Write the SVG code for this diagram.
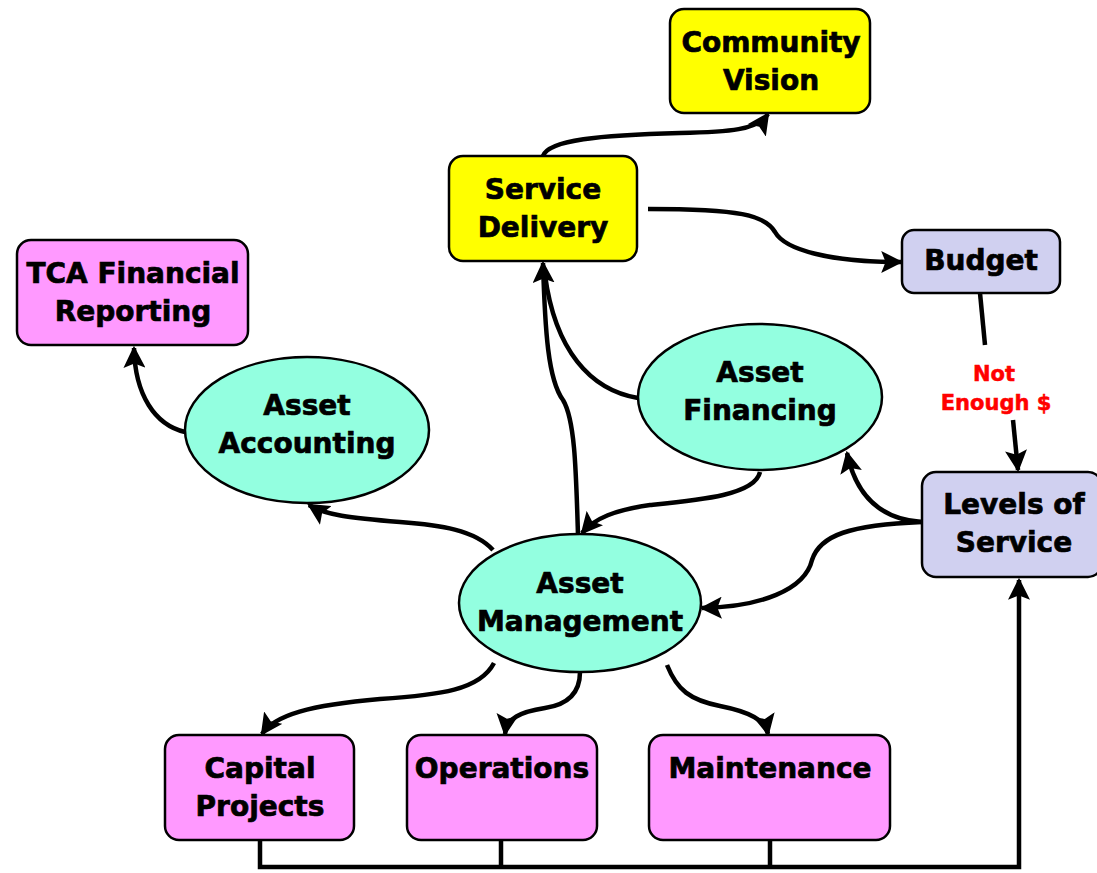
<svg xmlns="http://www.w3.org/2000/svg" width="1097" height="873" viewBox="0 0 1097 873">
<style>
.box{stroke:#000;stroke-width:2.5}
.y{fill:#FFFF00}.p{fill:#FF99FF}.l{fill:#D0D0F0}.c{fill:#93FFE0}
text{font-family:"DejaVu Sans","Verdana",sans-serif;font-weight:bold;font-size:28px;fill:#000;stroke:#000;stroke-width:0.7;text-anchor:middle}
.red{fill:#FF0000;stroke:#FF0000;stroke-width:0.5;font-size:21px}
.con path{fill:none;stroke:#000;stroke-width:4.5}
</style>
<defs>
<marker id="arr" viewBox="0 0 10 10" refX="9" refY="5" markerWidth="22" markerHeight="22" markerUnits="userSpaceOnUse" orient="auto">
<path d="M0,0 L10,5 L0,10 L2,5 z" fill="#000"/>
</marker>
</defs>
<rect width="1097" height="873" fill="#fff"/>
<g class="con">
<path d="M543,156 C548,140 600,135 680,133 C730,132 757,130 768,114" marker-end="url(#arr)"/>
<path d="M648,209 C740,209 765,215 775,232 C785,250 830,262 901,262" marker-end="url(#arr)"/>
<path d="M980,293 L985,345"/>
<path d="M1013,420 L1018,470" marker-end="url(#arr)"/>
<path d="M922,522 C890,520 858,505 847,453" marker-end="url(#arr)"/>
<path d="M922,522 C850,525 820,535 812,560 C805,590 760,607 702,608" marker-end="url(#arr)"/>
<path d="M760,472 C755,495 700,500 650,505 C615,510 595,518 582,533" marker-end="url(#arr)"/>
<path d="M578,535 C576,470 575,420 563,400 C548,380 545,330 543,263" marker-end="url(#arr)"/>
<path d="M638,398 C590,390 555,350 545,275"/>
<path d="M493,550 C475,530 440,525 400,522 C350,518 325,515 309,505" marker-end="url(#arr)"/>
<path d="M185,432 C155,425 135,395 134,348" marker-end="url(#arr)"/>
<path d="M494,663 C480,690 440,695 380,699 C310,705 275,715 262,734" marker-end="url(#arr)"/>
<path d="M580,672 C580,695 565,705 545,708 C520,712 507,718 505,734" marker-end="url(#arr)"/>
<path d="M667,665 C677,690 690,700 720,706 C750,712 765,720 768,734" marker-end="url(#arr)"/>
<path d="M260,840 V867 H1019 V580" marker-end="url(#arr)"/>
<path d="M501,840 V867"/>
<path d="M770,840 V867"/>
</g>
<g id="community-vision"><rect class="box y" x="670" y="9" width="200" height="104" rx="14"/><text x="771" y="52">Community</text><text x="771" y="90">Vision</text></g>
<g id="service-delivery"><rect class="box y" x="449" y="156" width="188" height="105" rx="14"/><text x="543" y="199">Service</text><text x="543" y="237">Delivery</text></g>
<g id="tca"><rect class="box p" x="17" y="240" width="231" height="105" rx="14"/><text x="133" y="283">TCA Financial</text><text x="133" y="321">Reporting</text></g>
<g id="budget"><rect class="box l" x="902" y="230" width="158" height="63" rx="12"/><text x="981" y="270">Budget</text></g>
<g id="levels"><rect class="box l" x="922" y="472" width="180" height="105" rx="14"/><text x="1014" y="514">Levels of</text><text x="1014" y="552">Service</text></g>
<g id="asset-accounting"><ellipse class="box c" cx="307" cy="430" rx="122" ry="73"/><text x="307" y="415">Asset</text><text x="307" y="453">Accounting</text></g>
<g id="asset-financing"><ellipse class="box c" cx="760" cy="397" rx="122" ry="73"/><text x="760" y="382">Asset</text><text x="760" y="420">Financing</text></g>
<g id="asset-management"><ellipse class="box c" cx="580" cy="603" rx="121" ry="69"/><text x="580" y="593">Asset</text><text x="580" y="631">Management</text></g>
<g id="capital-projects"><rect class="box p" x="165" y="735" width="189" height="105" rx="14"/><text x="260" y="778">Capital</text><text x="260" y="816">Projects</text></g>
<g id="operations"><rect class="box p" x="407" y="735" width="190" height="105" rx="14"/><text x="502" y="778">Operations</text></g>
<g id="maintenance"><rect class="box p" x="649" y="735" width="241" height="105" rx="14"/><text x="770" y="778">Maintenance</text></g>
<g id="not-enough"><text class="red" x="994" y="381">Not</text><text class="red" x="996" y="410">Enough $</text></g>
</svg>
